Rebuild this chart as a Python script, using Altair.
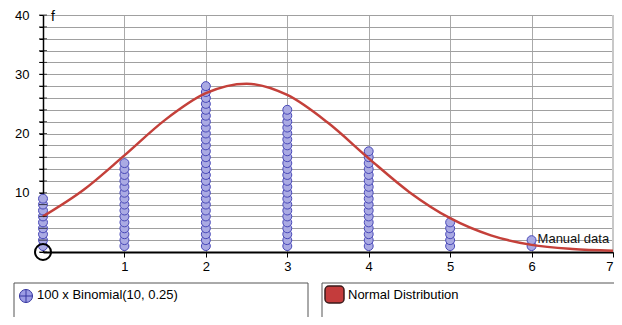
import altair as alt
import pandas as pd

# ---- data ----
outcomes = [0, 1, 2, 3, 4, 5, 6]
frequencies = [9, 15, 28, 24, 17, 5, 2]

curve_x = [0, 0.5, 1, 1.5, 2, 2.5, 3, 3.5, 4, 4.5, 5, 5.5, 6, 6.5, 7]
curve_f = [6.0, 10.5, 16.3, 22.3, 26.8, 28.4, 26.5, 21.8, 15.8, 10.1, 5.7, 2.8, 1.2, 0.5, 0.2]

y_tick_values = list(range(0, 41, 2))
x_tick_values = [1, 2, 3, 4, 5, 6, 7]

manual_label_x = [6]
manual_label_f = [2]
manual_label_text = ["Manual data"]

axis_title_text = ["f"]
legend_labels = ["100 x Binomial(10, 0.25)", "Normal Distribution"]

FONT = "Liberation Sans"

dots_df = pd.DataFrame(
    [{"x": x, "f": k} for x, n in zip(outcomes, frequencies) for k in range(1, n + 1)]
)
curve_df = pd.DataFrame({"x": curve_x, "f": curve_f})
yticks_df = pd.DataFrame({"x": [0] * len(y_tick_values), "f": y_tick_values})
origin_df = pd.DataFrame({"x": [0], "f": [0]})
edge_df = pd.DataFrame({"x": [x_tick_values[-1]], "f": [0], "f2": [40]})
title_df = pd.DataFrame({"x": [0], "f": [40], "t": axis_title_text})
manual_df = pd.DataFrame({"x": manual_label_x, "f": manual_label_f, "t": manual_label_text})
one = pd.DataFrame({"k": [0]})

xs = alt.Scale(domain=[0, 7], nice=False, zero=False)
ys = alt.Scale(domain=[0, 40], nice=False, zero=False)

x_axis = alt.Axis(
    values=x_tick_values, title=None, grid=True, gridColor="#aaaaaa", gridWidth=1,
    domainColor="black", domainWidth=2, tickColor="black", tickSize=5, tickWidth=1,
    format="d", labelFont=FONT, labelFontSize=13, labelColor="black", labelPadding=3,
    labelFlush=True, labelOverlap=False,
)
y_axis = alt.Axis(
    values=y_tick_values, title=None, grid=True, gridColor="#a0a0a0", gridWidth=1,
    domainColor="black", domainWidth=1.5, tickColor="black", tickSize=4, tickWidth=1,
    format="d",
    labelExpr="datum.value % 10 == 0 && datum.value > 0 ? datum.label : ''",
    labelFont=FONT, labelFontSize=13, labelColor="black", labelPadding=10,
    labelOverlap=False, labelFlush=False,
)

X = alt.X("x:Q", scale=xs, axis=x_axis)
Y = alt.Y("f:Q", scale=ys, axis=y_axis)

dots = alt.Chart(dots_df).mark_point(
    shape="circle", filled=True, size=80, fill="#aaaae3", stroke="#4848b8",
    strokeWidth=1, fillOpacity=1, opacity=1,
).encode(x=X, y=Y)

edge = alt.Chart(edge_df).mark_rule(color="#c8c8c8", strokeWidth=2).encode(
    x=X, y=Y, y2="f2:Q"
)

curve = alt.Chart(curve_df).mark_line(
    color="#c4403a", strokeWidth=2.5, interpolate="monotone"
).encode(x=X, y=Y)

origin = alt.Chart(origin_df).mark_point(
    shape="circle", filled=False, size=256, stroke="black", strokeWidth=2, opacity=1
).encode(x=X, y=Y)

yticks = alt.Chart(yticks_df).mark_tick(
    orient="horizontal", size=8, thickness=1, color="black"
).encode(x=X, y=Y)

ftitle = alt.Chart(title_df).mark_text(
    align="left", baseline="middle", dx=8, dy=2, font=FONT, fontSize=14, color="black"
).encode(x=X, y=Y, text="t:N")

manual = alt.Chart(manual_df).mark_text(
    align="left", baseline="middle", dx=6, dy=-1, font=FONT, fontSize=13, color="#111111"
).encode(x=X, y=Y, text="t:N")

# ---- legend boxes (decoration, pixel layout) ----
box1 = alt.Chart(one).mark_rect(fill="white", stroke="#555555", strokeWidth=1).encode(
    x=alt.value(-29), x2=alt.value(265), y=alt.value(268), y2=alt.value(330)
)
box2 = alt.Chart(one).mark_rect(fill="white", stroke="#555555", strokeWidth=1).encode(
    x=alt.value(279), x2=alt.value(575), y=alt.value(268), y2=alt.value(330)
)
icon1 = alt.Chart(one).mark_point(
    shape="circle", filled=True, size=170, fill="#9c9ce4", stroke="#3636a0",
    strokeWidth=1, fillOpacity=1, opacity=1,
).encode(x=alt.value(-17), y=alt.value(281))
icon1x = alt.Chart(one).mark_point(
    shape="M-1,0L1,0M0,-1L0,1", filled=False, size=170, stroke="#3636a0",
    strokeWidth=1, opacity=1,
).encode(x=alt.value(-17), y=alt.value(281))
text1 = alt.Chart(one).mark_text(
    align="left", baseline="middle", font=FONT, fontSize=13, color="black"
).encode(x=alt.value(-6), y=alt.value(280), text=alt.value(legend_labels[0]))
icon2 = alt.Chart(one).mark_rect(
    fill="#c43c3c", stroke="#3a1a1a", strokeWidth=1.5, cornerRadius=4
).encode(x=alt.value(282), x2=alt.value(301), y=alt.value(271), y2=alt.value(288))
text2 = alt.Chart(one).mark_text(
    align="left", baseline="middle", font=FONT, fontSize=13, color="black"
).encode(x=alt.value(305), y=alt.value(280), text=alt.value(legend_labels[1]))

chart = alt.layer(
    dots, edge, curve, origin, yticks, ftitle, manual,
    box1, box2, icon1, icon1x, text1, icon2, text2,
).properties(
    width=570, height=237,
    padding={"left": 35, "top": 7, "right": 1, "bottom": 65},
    autosize=alt.AutoSizeParams(type="none"),
).configure_view(stroke=None).configure(background="white")

chart.save("out.html", embed_options={"renderer": "svg", "actions": False})
